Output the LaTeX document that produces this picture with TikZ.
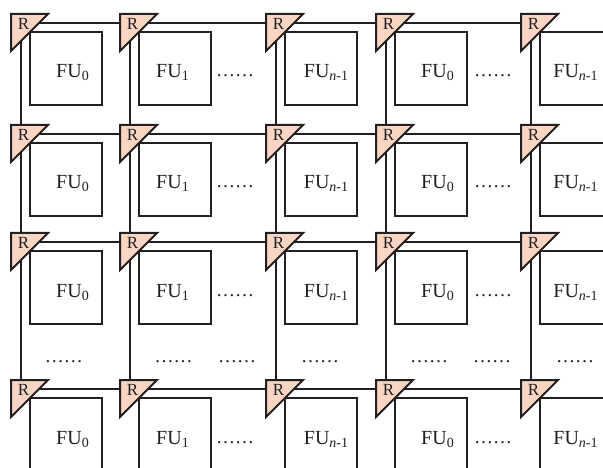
\documentclass[tikz,border=0pt]{standalone}
\usepackage{fontspec}
\setmainfont{Liberation Serif}
\definecolor{rfill}{RGB}{249,214,196}
\definecolor{ink}{RGB}{35,31,32}
\newcommand\fusub[1]{\raisebox{-3pt}{\fontsize{14}{14}\selectfont #1}}
\begin{document}
\begin{tikzpicture}[x=1pt,y=-1pt,
  fubox/.style={draw=ink, line width=2pt, minimum width=72pt, minimum height=73pt, inner sep=0pt, outer sep=0pt, anchor=north west},
  router/.style={draw=ink, fill=rfill, line width=2pt, line join=miter},
  link/.style={draw=ink, line width=2pt},
  fulabel/.style={font=\fontsize{20}{20}\selectfont, text=ink, anchor=base, inner sep=0pt},
  rlabel/.style={font=\fontsize{17}{17}\selectfont, text=ink, anchor=base, inner sep=0pt},
  dotsl/.style={font=\fontsize{19}{19}\selectfont, text=ink, anchor=base, inner sep=0pt}]
\useasboundingbox (0,0) rectangle (603,468);
\clip (0,0) rectangle (603,468);
% FU boxes and junctions
\foreach \r/\ty in {0/14,1/125,2/233,3/380}{
  \foreach \c/\tx/\lx/\lab in {0/11/72.5/0,1/120/172.5/1,2/266/326/{\textit{n}-1},3/376/437.5/0,4/521/575.5/{\textit{n}-1}}{
    \coordinate (j\r\c) at (\tx+10,\ty+9);
    \node[fubox] (fu\r\c) at (\tx+19,\ty+18) {};
    \node[fulabel] (ful\r\c) at (\lx,\ty+64) {FU\fusub{\lab}};
  }
  \node[dotsl] (da\r) at (235,\ty+63) {……};
  \node[dotsl] (db\r) at (493,\ty+63) {……};
}
% links
\foreach \r in {0,...,3}{
  \draw[link] (j\r0) -- (j\r4);
}
\foreach \c in {0,...,4}{
  \draw[link] (j0\c) -- (j1\c) -- (j2\c) -- (j3\c);
}
% routers
\foreach \r/\ty in {0/14,1/125,2/233,3/380}{
  \foreach \c/\tx in {0/11,1/120,2/266,3/376,4/521}{
    \draw[router] (\tx,\ty) -- ++(37,0) -- ++(-37,37) -- cycle;
    \node[rlabel] (rl\r\c) at (\tx+12.5,\ty+15.5) {R};
  }
}
% dots row
\foreach \x [count=\k] in {64,173.5,237,320,429,492,575}{
  \node[dotsl] (dr\k) at (\x,362.5) {……};
}
\end{tikzpicture}
\end{document}
